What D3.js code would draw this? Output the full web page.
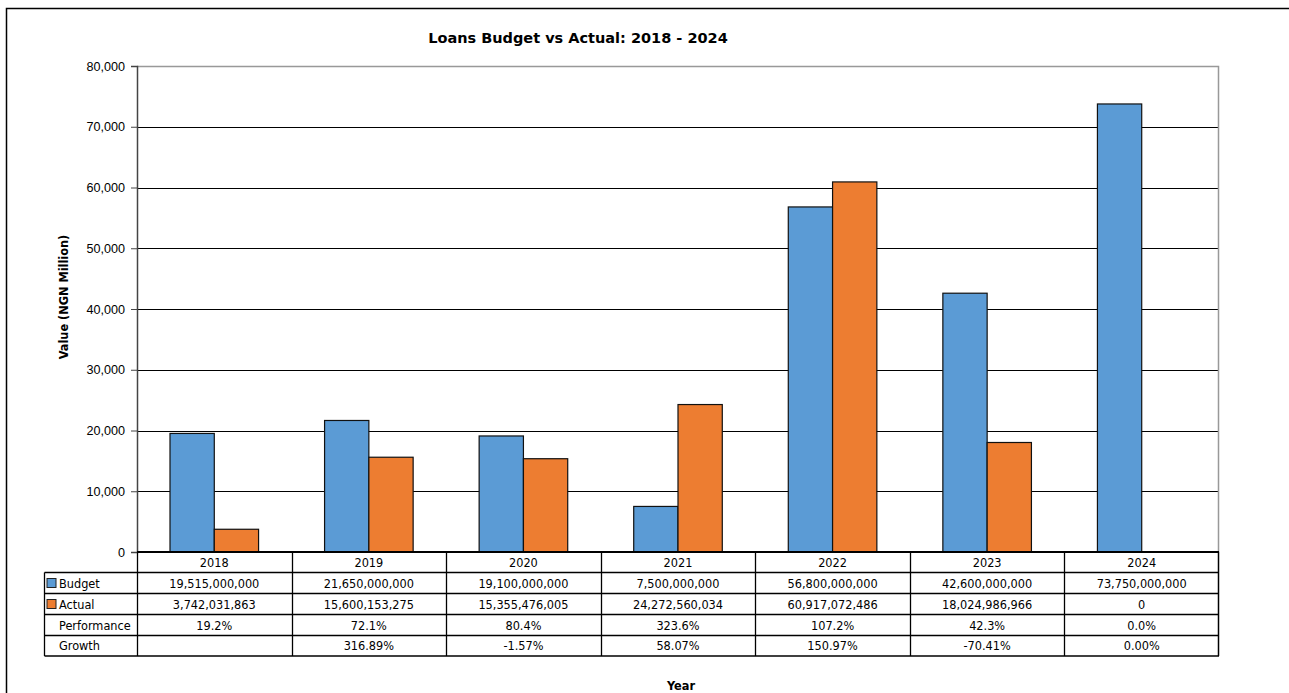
<!DOCTYPE html>
<html>
<head>
<meta charset="utf-8">
<script src="https://cdn.jsdelivr.net/npm/d3@7"></script>
<style>
  html, body { margin: 0; padding: 0; background: #fff; }
  svg { display: block; font-family: "DejaVu Sans Condensed", "DejaVu Sans", sans-serif; font-stretch: condensed; }
  .title { font-family: "DejaVu Sans", sans-serif; font-stretch: normal; }
</style>
</head>
<body>
<div class="BudgetChart"></div>
<script>
const years = ["2018", "2019", "2020", "2021", "2022", "2023", "2024"];
const budget = [19515000000, 21650000000, 19100000000, 7500000000, 56800000000, 42600000000, 73750000000];
const actual = [3742031863, 15600153275, 15355476005, 24272560034, 60917072486, 18024986966, 0];
const performance = ["19.2%", "72.1%", "80.4%", "323.6%", "107.2%", "42.3%", "0.0%"];
const growth = ["", "316.89%", "-1.57%", "58.07%", "150.97%", "-70.41%", "0.00%"];
const yTicks = [0, 10000, 20000, 30000, 40000, 50000, 60000, 70000, 80000];

const width = 1289, height = 693;
const margin = { top: 66, right: 70, bottom: 141, left: 137 };
const colors = { Budget: "#5b9bd5", Actual: "#ed7d31" };
const fs = 12.6;

const svg = d3.select(".BudgetChart").append("svg")
  .attr("width", width)
  .attr("height", height);

// outer chart frame
svg.append("rect")
  .attr("x", 6.5).attr("y", 8.5)
  .attr("width", 1400).attr("height", 900)
  .attr("fill", "none")
  .attr("stroke", "#000")
  .attr("stroke-width", 1.5);

// y scale (values in NGN million)
const y = d3.scaleLinear()
  .domain([0, 80000])
  .range([height - margin.bottom, margin.top]);

// x scale, one band per year
const x = d3.scaleBand()
  .domain(years)
  .range([margin.left, width - margin.right]);

const bw = x.bandwidth();
const xs = d3.scaleBand()
  .domain(["Budget", "Actual"])
  .range([33, bw - 33]);

//gridlines
svg.append("g")
  .selectAll("line")
  .data(yTicks.filter(t => t > 0 && t < 80000))
  .join("line")
  .attr("x1", margin.left).attr("x2", width - margin.right)
  .attr("y1", d => Math.round(y(d)) + 0.5).attr("y2", d => Math.round(y(d)) + 0.5)
  .attr("stroke", "#000");

// plot border (top + right)
svg.append("path")
  .attr("d", `M${margin.left},${y(80000) + 0.5}H${width - margin.right - 0.5}V${y(0)}`)
  .attr("fill", "none")
  .attr("stroke", "#999")
  .attr("stroke-width", 1.5);

const rows = years.map((yr, i) => ({ year: yr, Budget: budget[i] / 1e6, Actual: actual[i] / 1e6 }));

//bars
svg.append("g")
  .selectAll("g")
  .data(rows)
  .join("g")
  .attr("transform", d => `translate(${x(d.year)},0)`)
  .selectAll("rect")
  .data(d => ["Budget", "Actual"].map(k => ({ key: k, value: d[k] })))
  .join("rect")
  .attr("x", d => xs(d.key))
  .attr("y", d => y(d.value))
  .attr("width", xs.bandwidth())
  .attr("height", d => y(0) - y(d.value))
  .attr("fill", d => colors[d.key])
  .attr("stroke", d => d.value > 0 ? "#111" : "none")
  .attr("stroke-width", 1.2);

//y axis
const yAxis = svg.append("g")
  .attr("transform", `translate(${margin.left},0)`)
  .call(d3.axisLeft(y).tickValues(yTicks).tickSize(6).tickPadding(6).tickFormat(d3.format(",")));
yAxis.select(".domain").attr("stroke", "#444").attr("stroke-width", 1.5);
yAxis.selectAll(".tick line").attr("stroke", "#444");
yAxis.selectAll("text")
  .attr("font-size", fs)
  .attr("font-family", null)
  .attr("fill", "#000");

// data table below the plot
const tableTop = y(0);
const rowY = [tableTop, 572.5, 593.5, 614.5, 635.5, 656];
const labelLeft = 44.5;
const right = width - margin.right;
const tbl = svg.append("g").attr("stroke", "#000");

// horizontal rules
rowY.forEach((ry, i) => {
  tbl.append("line")
    .attr("x1", i === 0 ? margin.left : labelLeft).attr("x2", right)
    .attr("y1", ry).attr("y2", ry)
    .attr("stroke-width", i === 0 ? 2 : 1.3);
});
// vertical rules
years.forEach(yr => {
  tbl.append("line")
    .attr("x1", Math.round(x(yr)) + 0.5).attr("x2", Math.round(x(yr)) + 0.5)
    .attr("y1", tableTop).attr("y2", rowY[5])
    .attr("stroke-width", 1.3);
});
tbl.append("line")
  .attr("x1", right - 0.5).attr("x2", right - 0.5)
  .attr("y1", tableTop).attr("y2", rowY[5])
  .attr("stroke-width", 1.5);
tbl.append("line")
  .attr("x1", labelLeft).attr("x2", labelLeft)
  .attr("y1", rowY[1]).attr("y2", rowY[5])
  .attr("stroke-width", 1.3);

const tableRows = [
  years,
  budget.map(d3.format(",")),
  actual.map(d3.format(",")),
  performance,
  growth
];

tableRows.forEach((vals, r) => {
  svg.append("g")
    .selectAll("text")
    .data(vals)
    .join("text")
    .attr("x", (d, i) => x(years[i]) + bw / 2)
    .attr("y", (rowY[r] + rowY[r + 1]) / 2)
    .attr("dy", "0.36em")
    .attr("text-anchor", "middle")
    .attr("font-size", fs)
    .text(d => d);
});

// row labels with legend keys
const rowLabels = ["Budget", "Actual", "Performance", "Growth"];
rowLabels.forEach((lab, i) => {
  const cy = (rowY[i + 1] + rowY[i + 2]) / 2;
  if (colors[lab]) {
    svg.append("rect")
      .attr("x", 47).attr("y", cy - 4.5)
      .attr("width", 9).attr("height", 9)
      .attr("fill", colors[lab])
      .attr("stroke", "#222");
  }
  svg.append("text")
    .attr("x", 59)
    .attr("y", cy)
    .attr("dy", "0.36em")
    .attr("font-size", fs)
    .text(lab);
});

// title and axis labels
svg.append("text")
  .attr("class", "title")
  .attr("x", 578).attr("y", 43)
  .attr("text-anchor", "middle")
  .attr("font-size", 14.5)
  .attr("font-weight", "bold")
  .text("Loans Budget vs Actual: 2018 - 2024");

svg.append("text")
  .attr("transform", "rotate(-90)")
  .attr("x", -297).attr("y", 68)
  .attr("text-anchor", "middle")
  .attr("font-size", fs)
  .attr("font-weight", "bold")
  .text("Value (NGN Million)");

svg.append("text")
  .attr("x", 681).attr("y", 690)
  .attr("text-anchor", "middle")
  .attr("font-size", fs)
  .attr("font-weight", "bold")
  .text("Year");
</script>
</body>
</html>
